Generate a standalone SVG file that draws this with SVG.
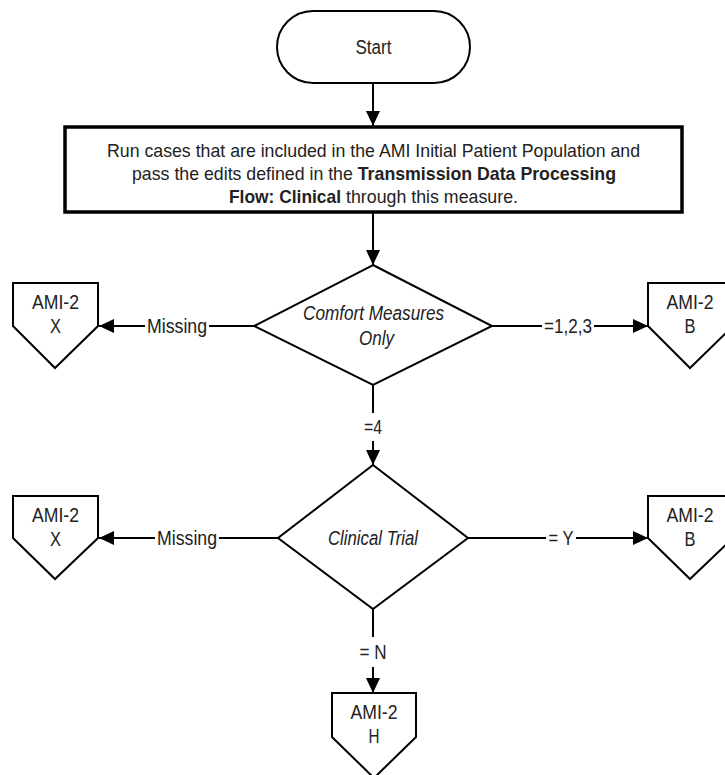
<svg xmlns="http://www.w3.org/2000/svg" width="725" height="775" viewBox="0 0 725 775">
<style>
text{font-family:"Liberation Sans",Arial,sans-serif;font-size:20px;fill:#222;text-anchor:middle}
.p{font-size:19px}
.it{font-style:italic}
.b{font-weight:bold}
.st{text-anchor:start}
.shape{fill:#fff;stroke:#000;stroke-width:2}
.line{fill:none;stroke:#000;stroke-width:2}
</style>
<defs>
<marker id="arr" markerUnits="userSpaceOnUse" markerWidth="16" markerHeight="14" refX="15" refY="7" orient="auto">
<path d="M0,0 L15,7 L0,14 z" fill="#000"/>
</marker>
</defs>
<g id="connectors">
<line class="line" x1="373" y1="83" x2="373" y2="126" marker-end="url(#arr)"/>
<line class="line" x1="373" y1="213" x2="373" y2="265" marker-end="url(#arr)"/>
<line class="line" x1="254" y1="326" x2="209" y2="326"/>
<line class="line" x1="145" y1="326" x2="99" y2="326" marker-end="url(#arr)"/>
<line class="line" x1="492" y1="326" x2="542" y2="326"/>
<line class="line" x1="594" y1="326" x2="648" y2="326" marker-end="url(#arr)"/>
<line class="line" x1="373" y1="385" x2="373" y2="413"/>
<line class="line" x1="373" y1="441" x2="373" y2="465" marker-end="url(#arr)"/>
<line class="line" x1="278" y1="538" x2="219" y2="538"/>
<line class="line" x1="155" y1="538" x2="99" y2="538" marker-end="url(#arr)"/>
<line class="line" x1="468" y1="538" x2="546" y2="538"/>
<line class="line" x1="576" y1="538" x2="648" y2="538" marker-end="url(#arr)"/>
<line class="line" x1="373" y1="609" x2="373" y2="637"/>
<line class="line" x1="373" y1="667" x2="373" y2="693" marker-end="url(#arr)"/>
<text x="177" y="333" textLength="60" lengthAdjust="spacingAndGlyphs">Missing</text>
<text x="568" y="333" textLength="48" lengthAdjust="spacingAndGlyphs">=1,2,3</text>
<text x="373" y="434" textLength="18" lengthAdjust="spacingAndGlyphs">=4</text>
<text x="187" y="545" textLength="60" lengthAdjust="spacingAndGlyphs">Missing</text>
<text x="561" y="545" textLength="25" lengthAdjust="spacingAndGlyphs">= Y</text>
<text x="373" y="659" textLength="27" lengthAdjust="spacingAndGlyphs">= N</text>
</g>
<g id="start">
<rect class="shape" x="277" y="11" width="193" height="72" rx="36" ry="36"/>
<text x="373.5" y="54" textLength="36" lengthAdjust="spacingAndGlyphs">Start</text>
</g>
<g id="process">
<rect x="65" y="127" width="617" height="85" fill="#fff" stroke="#000" stroke-width="3.5"/>
<text class="p" x="373.5" y="157" textLength="533" lengthAdjust="spacingAndGlyphs">Run cases that are included in the AMI Initial Patient Population and</text>
<text class="p" x="374" y="180" textLength="484" lengthAdjust="spacingAndGlyphs">pass the edits defined in the <tspan class="b">Transmission Data Processing</tspan></text>
<text class="p b st" x="229" y="203" textLength="112" lengthAdjust="spacingAndGlyphs">Flow: Clinical</text>
<text class="p st" x="346" y="203" textLength="172" lengthAdjust="spacingAndGlyphs">through this measure.</text>
</g>
<g id="decision-cmo">
<polygon class="shape" points="373,265 492,326 373,385 254,326"/>
<text class="it" x="373.5" y="320" textLength="141" lengthAdjust="spacingAndGlyphs">Comfort Measures</text>
<text class="it" x="376.5" y="345" textLength="35" lengthAdjust="spacingAndGlyphs">Only</text>
</g>
<g id="ami2-x-1">
<polygon class="shape" points="13,283 98,283 98,326 55,368 13,326"/>
<text x="55.5" y="309" textLength="47" lengthAdjust="spacingAndGlyphs">AMI-2</text>
<text x="55.5" y="333" textLength="11" lengthAdjust="spacingAndGlyphs">X</text>
</g>
<g id="ami2-b-1">
<polygon class="shape" points="648,283 733,283 733,326 690,368 648,326"/>
<text x="690" y="309" textLength="47" lengthAdjust="spacingAndGlyphs">AMI-2</text>
<text x="690" y="333" textLength="11" lengthAdjust="spacingAndGlyphs">B</text>
</g>
<g id="decision-trial">
<polygon class="shape" points="373,465 468,538 373,609 278,538"/>
<text class="it" x="373" y="545" textLength="90" lengthAdjust="spacingAndGlyphs">Clinical Trial</text>
</g>
<g id="ami2-x-2">
<polygon class="shape" points="13,496 98,496 98,538 55,579 13,538"/>
<text x="55.5" y="522" textLength="47" lengthAdjust="spacingAndGlyphs">AMI-2</text>
<text x="55.5" y="546" textLength="11" lengthAdjust="spacingAndGlyphs">X</text>
</g>
<g id="ami2-b-2">
<polygon class="shape" points="648,496 733,496 733,538 690,579 648,538"/>
<text x="690" y="522" textLength="47" lengthAdjust="spacingAndGlyphs">AMI-2</text>
<text x="690" y="546" textLength="11" lengthAdjust="spacingAndGlyphs">B</text>
</g>
<g id="ami2-h">
<polygon class="shape" points="332,693 416,693 416,737 374,778 332,737"/>
<text x="374" y="719" textLength="47" lengthAdjust="spacingAndGlyphs">AMI-2</text>
<text x="374" y="743" textLength="11" lengthAdjust="spacingAndGlyphs">H</text>
</g>
</svg>
